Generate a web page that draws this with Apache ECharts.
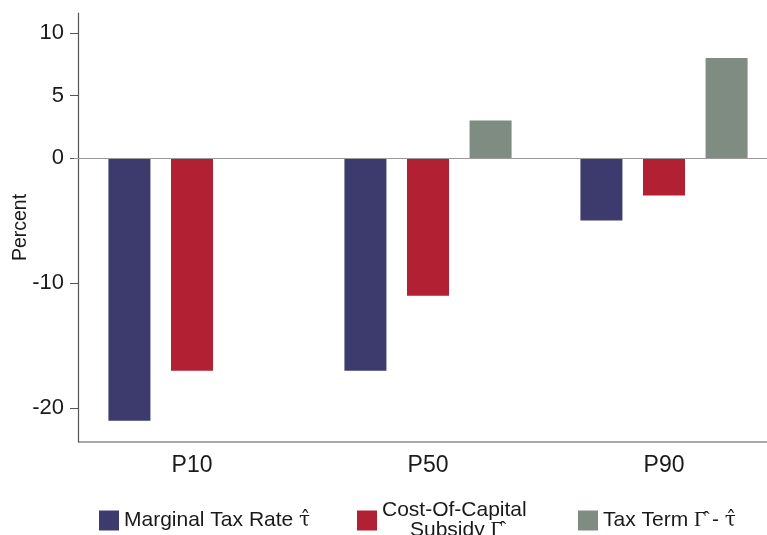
<!DOCTYPE html>
<html>
<head>
<meta charset="utf-8">
<script src="https://cdn.jsdelivr.net/npm/echarts@6/dist/echarts.min.js"></script>
<style>
  html, body { margin: 0; padding: 0; background: #fff; }
  #main { width: 767px; height: 535px; }
</style>
</head>
<body>
<div id="main"></div>
<script>
// percentiles on the x axis
const categories = ['P10', 'P50', 'P90']
// values in percent
const marginalTaxRate = [-21.0, -17.0, -5.0]
const costOfCapitalSubsidy = [-17.0, -11.0, -3.0]
const taxTerm = [null, 3.0, 8.0]
// labelled ticks on the y axis
const yTicks = [-20, -10, 0, 5, 10]

const names = ['Marginal Tax Rate', 'Cost-Of-Capital Subsidy', 'Tax Term']
const colors = ['#3d3b6d', '#b22034', '#7f8c82']
const font = 'Liberation Sans, Arial, sans-serif'
const ink = '#1a1a1a'

const chart = echarts.init(document.getElementById('main'))

// rich text styles: plain text and greek letters with a hat
const rich = {
    t: { fontSize: 21, fontFamily: font, color: ink },
    c: { fontSize: 21, fontFamily: font, color: ink, lineHeight: 20 },
    s: { fontSize: 21, fontFamily: font, color: ink, lineHeight: 20, padding: [0, 0, 0, 28] },
    g: { fontSize: 20, fontFamily: 'DejaVu Serif', color: ink, lineHeight: 20 },
    G: { fontSize: 21, fontFamily: 'Liberation Serif', color: ink, lineHeight: 20 }
}

const legendBase = {
    orient: 'horizontal',
    itemWidth: 20,
    itemHeight: 20,
    itemGap: 0,
    icon: 'rect',
    selectedMode: false,
    textStyle: { fontSize: 21, color: ink, fontFamily: font, rich: rich }
}

const option = {
    backgroundColor: '#fff',
    animation: false,
    color: colors,
    grid: { left: 74, width: 708, top: 13, bottom: 93, outerBoundsMode: 'none', containLabel: false },
    legend: [
        Object.assign({}, legendBase, {
            data: [names[0]], left: 94, top: 505,
            formatter: () => '{t|Marginal Tax Rate }{g|τ\u0302}'
        }),
        Object.assign({}, legendBase, {
            data: [names[1]], left: 352, top: 495,
            formatter: () => '{c|Cost-Of-Capital}\n{s|Subsidy }{G|Γ\u0302}'
        }),
        Object.assign({}, legendBase, {
            data: [names[2]], left: 573, top: 505,
            formatter: () => '{t|Tax Term }{G|Γ\u0302}{t| - }{g|τ\u0302}'
        })
    ],
    graphic: [
        // bottom axis line, starting at the y axis
        { type: 'line', silent: true, shape: { x1: 78, y1: 442, x2: 767, y2: 442 }, style: { stroke: '#555', lineWidth: 1.2 } }
    ],
    xAxis: {
        type: 'category',
        data: categories,
        axisLine: { show: false, onZero: false },
        axisTick: { show: false },
        axisLabel: { fontSize: 23, color: ink, fontFamily: font, margin: 12 }
    },
    yAxis: {
        type: 'value',
        min: -22.7,
        max: 11.6,
        offset: -4,
        name: 'Percent',
        nameLocation: 'middle',
        nameRotate: 90,
        nameGap: 47.5,
        nameMoveOverlap: false,
        nameTextStyle: { fontSize: 19.5, color: ink, fontFamily: font },
        splitLine: { show: false },
        axisLine: { show: true, lineStyle: { color: '#555', width: 1.2 } },
        axisTick: { show: true, length: 8, customValues: yTicks, lineStyle: { color: '#555' } },
        axisLabel: { customValues: yTicks, fontSize: 22, color: ink, fontFamily: font, margin: 14 }
    },
    series: [
        {
            name: names[0], type: 'bar', data: marginalTaxRate, barWidth: 42, barGap: '49%',
            markLine: {
                silent: true, symbol: 'none', label: { show: false },
                lineStyle: { color: '#9a9a9a', width: 1, type: 'solid' },
                data: [{ yAxis: 0 }]
            }
        },
        { name: names[1], type: 'bar', data: costOfCapitalSubsidy, barWidth: 42, barGap: '49%' },
        { name: names[2], type: 'bar', data: taxTerm, barWidth: 42, barGap: '49%' }
    ]
}

chart.setOption(option)
</script>
</body>
</html>
